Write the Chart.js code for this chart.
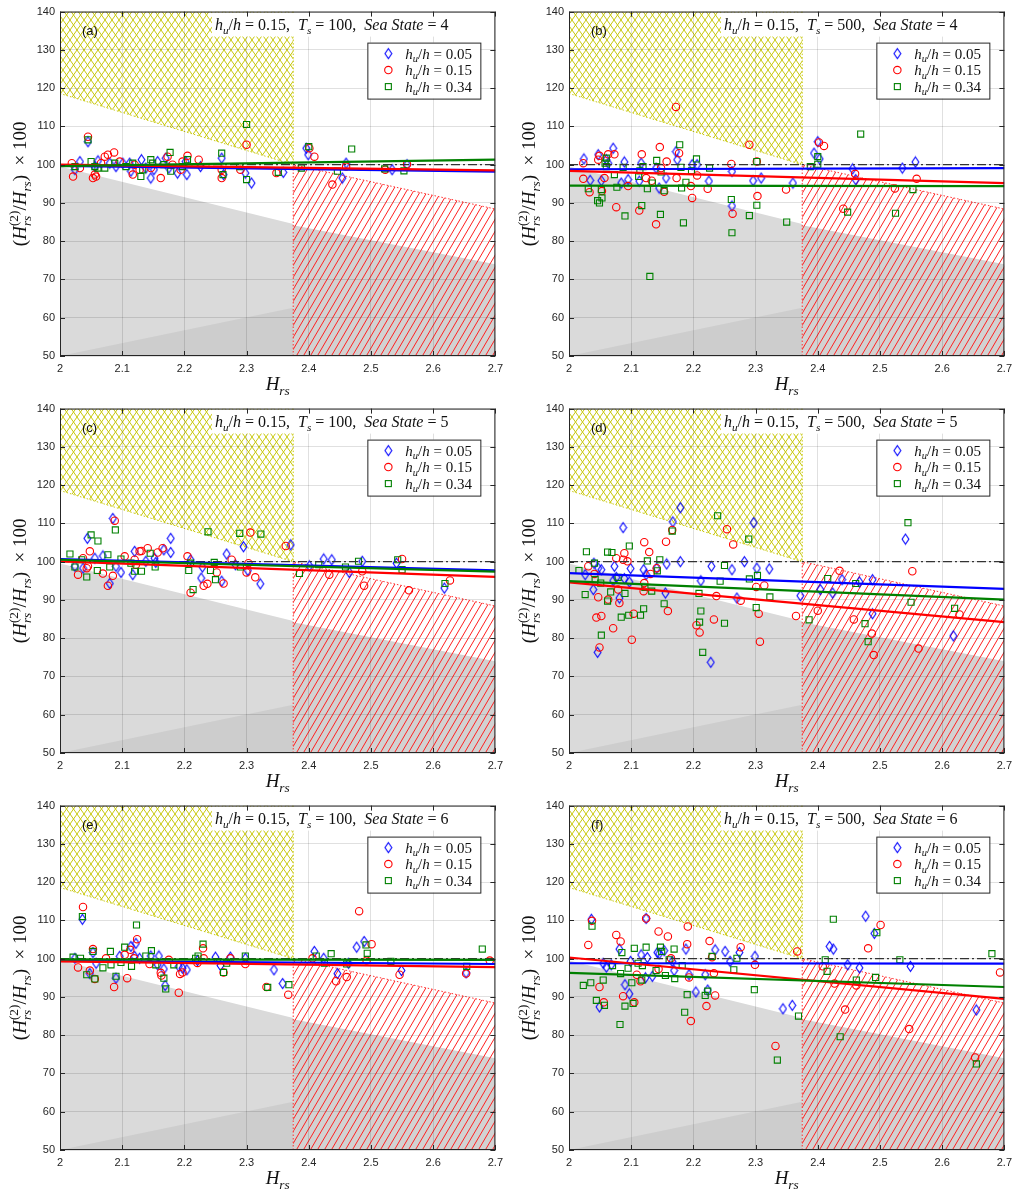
<!DOCTYPE html>
<html>
<head>
<meta charset="utf-8">
<script src="https://cdn.jsdelivr.net/npm/chart.js@4.4.1/dist/chart.umd.min.js"></script>
<style>
  html, body { margin: 0; padding: 0; background: #fff; }
  #wrap { position: relative; width: 1018px; height: 1195px; }
</style>
</head>
<body>
<div id="wrap"></div>
<script>
// axes
const xTicks = [2, 2.1, 2.2, 2.3, 2.4, 2.5, 2.6, 2.7];
const yTicks = [50, 60, 70, 80, 90, 100, 110, 120, 130, 140];

// panel info
const panelTags = ['(a)', '(b)', '(c)', '(d)', '(e)', '(f)'];
const tsValues = [100, 500, 100, 500, 100, 500];
const seaStates = [4, 4, 5, 5, 6, 6];
const huLabels = ['0.05', '0.15', '0.34'];
const huTitle = '0.15';

// shaded zones (H_rs, ratio) vertices
const yellowZone = [[2, 118.6], [2, 140], [2.375, 140], [2.375, 100]];
const grayZone = [[2, 99.5], [2.375, 84.5], [2.375, 50], [2, 50]];
const grayDark = [[2, 50], [2.375, 62.6], [2.375, 50]];
const redGray = [[2.375, 84.2], [2.7, 74], [2.7, 50], [2.375, 50]];
const redZone = [[2.375, 100], [2.7, 88.4], [2.7, 50], [2.375, 50]];

// reference line
const refX = [2, 2.7];
const refLine = [100, 100];

// fitted lines: [value at 2, value at 2.7] for hu/h = 0.05, 0.15, 0.34
const fitX = [2, 2.7];
const fitA = [[99.7, 98.2], [100.0, 98.5], [99.6, 101.3]];
const fitB = [[98.8, 99.1], [98.4, 95.2], [94.5, 94.4]];
const fitC = [[100.7, 97.7], [100.1, 96.0], [100.5, 97.4]];
const fitD = [[97.0, 92.9], [94.6, 84.2], [94.9, 90.1]];
const fitE = [[99.4, 98.6], [99.3, 97.8], [99.8, 99.7]];
const fitF = [[98.8, 98.7], [100.3, 89.5], [96.3, 92.6]];

// (a) Ts=100, sea state 4
const pA_05 = [[2.045,106.0],[2.024,98.7],[2.032,100.8],[2.061,101.0],[2.056,99.5],[2.080,100.4],[2.090,99.5],[2.101,100.4],[2.112,100.4],[2.131,101.3],[2.114,98.3],[2.138,99.1],[2.146,96.5],[2.151,98.7],[2.157,100.8],[2.170,101.7],[2.175,99.1],[2.189,97.8],[2.202,100.8],[2.204,97.4],[2.226,99.5],[2.260,101.7],[2.263,97.4],[2.298,97.8],[2.308,95.2],[2.359,98.0],[2.396,104.3],[2.399,102.6],[2.454,96.5],[2.460,100.4],[2.534,98.7],[2.558,100.0]];
const pA_15 = [[2.045,107.3],[2.019,100.4],[2.021,96.9],[2.032,99.1],[2.053,96.5],[2.056,97.4],[2.058,96.9],[2.066,100.4],[2.072,102.1],[2.077,102.6],[2.087,103.2],[2.096,100.8],[2.117,97.4],[2.120,100.0],[2.128,98.7],[2.146,99.1],[2.162,96.5],[2.173,102.1],[2.181,100.0],[2.194,98.7],[2.197,100.8],[2.205,102.3],[2.223,101.3],[2.260,96.5],[2.260,98.7],[2.290,98.7],[2.300,105.2],[2.348,97.8],[2.401,104.3],[2.409,102.1],[2.438,94.8],[2.460,99.5],[2.523,98.7],[2.558,100.1]];
const pA_34 = [[2.024,99.5],[2.045,106.5],[2.050,100.8],[2.056,99.5],[2.061,99.1],[2.072,99.1],[2.088,100.4],[2.106,99.5],[2.117,100.4],[2.130,96.9],[2.133,98.7],[2.146,101.3],[2.149,100.4],[2.167,100.0],[2.177,103.2],[2.178,98.3],[2.197,99.5],[2.205,101.3],[2.260,103.0],[2.262,97.4],[2.289,99.5],[2.300,110.5],[2.300,96.1],[2.351,98.0],[2.388,99.1],[2.400,104.7],[2.446,98.3],[2.469,104.1],[2.522,98.9],[2.553,98.4]];

// (b) Ts=500, sea state 4
const pB_05 = [[2.024,101.5],[2.034,95.9],[2.047,102.6],[2.052,95.8],[2.060,101.3],[2.063,100.4],[2.071,104.3],[2.084,95.2],[2.089,100.7],[2.095,96.1],[2.113,95.7],[2.116,100.4],[2.140,99.1],[2.145,93.9],[2.156,96.5],[2.172,103.4],[2.174,101.3],[2.198,100.0],[2.206,100.0],[2.225,95.7],[2.262,98.2],[2.262,89.2],[2.296,95.8],[2.309,96.5],[2.360,95.2],[2.394,103.0],[2.400,106.0],[2.403,101.5],[2.456,98.9],[2.461,96.1],[2.536,99.1],[2.557,100.7]];
const pB_15 = [[2.023,100.4],[2.023,96.3],[2.033,92.8],[2.047,101.3],[2.049,102.3],[2.053,93.1],[2.057,96.5],[2.063,102.7],[2.073,102.7],[2.076,88.9],[2.095,94.4],[2.113,88.0],[2.117,102.7],[2.124,96.5],[2.133,95.8],[2.140,84.4],[2.146,104.6],[2.148,99.1],[2.153,92.9],[2.157,100.8],[2.172,115.1],[2.173,96.5],[2.177,103.0],[2.196,94.4],[2.198,91.3],[2.206,97.2],[2.223,93.7],[2.261,100.2],[2.263,87.2],[2.290,105.2],[2.302,100.8],[2.303,91.8],[2.349,93.5],[2.402,105.8],[2.410,104.9],[2.441,88.5],[2.460,97.6],[2.524,93.8],[2.559,96.3]];
const pB_34 = [[2.031,93.7],[2.046,90.6],[2.049,90.0],[2.052,93.5],[2.053,91.3],[2.058,100.4],[2.060,99.5],[2.060,101.7],[2.073,97.4],[2.077,94.1],[2.087,99.3],[2.090,86.6],[2.112,96.9],[2.114,98.4],[2.117,89.3],[2.119,99.5],[2.126,93.7],[2.130,70.8],[2.134,95.2],[2.141,101.1],[2.147,87.0],[2.148,98.1],[2.153,93.2],[2.178,105.2],[2.180,99.3],[2.181,93.9],[2.184,84.8],[2.188,95.4],[2.197,98.4],[2.205,101.5],[2.226,99.1],[2.261,90.9],[2.262,82.2],[2.290,86.7],[2.302,100.8],[2.302,89.4],[2.350,85.0],[2.388,99.5],[2.400,102.1],[2.400,100.1],[2.448,87.6],[2.469,108.0],[2.525,87.3],[2.553,93.5]];

// (c) Ts=100, sea state 5
const pC_05 = [[2.024,98.8],[2.037,98.3],[2.044,106.1],[2.056,100.9],[2.069,101.5],[2.080,94.3],[2.085,111.3],[2.090,98.8],[2.098,97.2],[2.117,96.6],[2.120,102.7],[2.138,100.1],[2.152,100.9],[2.154,99.8],[2.167,103.1],[2.178,106.1],[2.178,102.4],[2.210,100.5],[2.227,95.7],[2.229,98.6],[2.260,94.9],[2.268,102.0],[2.282,99.2],[2.295,103.9],[2.302,97.7],[2.322,94.2],[2.371,104.4],[2.401,98.9],[2.424,100.7],[2.437,100.5],[2.465,97.2],[2.486,100.1],[2.541,99.6],[2.618,93.1]];
const pC_15 = [[2.029,96.6],[2.037,100.9],[2.043,98.3],[2.045,98.8],[2.048,102.7],[2.069,96.9],[2.077,93.7],[2.085,96.3],[2.088,110.7],[2.104,101.4],[2.120,100.5],[2.122,99.2],[2.128,102.7],[2.131,102.8],[2.141,103.5],[2.157,102.4],[2.165,103.5],[2.205,101.4],[2.210,91.9],[2.231,93.7],[2.237,94.2],[2.252,97.2],[2.263,94.3],[2.276,100.5],[2.300,97.2],[2.303,99.6],[2.306,107.6],[2.314,95.9],[2.363,104.1],[2.433,96.6],[2.486,97.5],[2.489,93.7],[2.550,100.7],[2.561,92.5],[2.627,95.1]];
const pC_34 = [[2.016,102.0],[2.024,98.6],[2.035,100.5],[2.043,96.0],[2.050,107.0],[2.060,97.7],[2.061,105.4],[2.077,101.8],[2.080,98.6],[2.089,108.3],[2.098,100.7],[2.114,99.6],[2.120,97.5],[2.131,97.5],[2.145,102.2],[2.153,98.6],[2.207,97.7],[2.210,99.6],[2.214,92.7],[2.238,107.8],[2.242,97.7],[2.248,99.8],[2.250,95.3],[2.289,107.4],[2.290,98.6],[2.323,107.2],[2.385,96.9],[2.416,99.2],[2.459,98.6],[2.480,100.1],[2.543,100.5],[2.550,97.9],[2.619,94.3]];

// (d) Ts=500, sea state 5
const pD_05 = [[2.026,96.6],[2.039,92.7],[2.040,99.6],[2.046,76.3],[2.047,98.3],[2.052,97.9],[2.071,95.0],[2.073,98.8],[2.076,95.9],[2.081,90.5],[2.087,108.9],[2.089,95.6],[2.097,94.7],[2.099,98.2],[2.120,97.9],[2.124,96.6],[2.141,98.3],[2.155,91.8],[2.157,99.4],[2.167,110.4],[2.179,114.1],[2.179,100.0],[2.212,95.0],[2.228,73.7],[2.229,98.8],[2.262,97.9],[2.270,90.5],[2.282,100.0],[2.297,110.2],[2.302,98.3],[2.322,98.1],[2.372,91.1],[2.404,92.7],[2.424,91.8],[2.439,95.3],[2.467,94.7],[2.488,95.3],[2.488,86.4],[2.541,105.9],[2.618,80.6]];
const pD_15 = [[2.031,98.8],[2.041,96.8],[2.044,85.4],[2.047,90.7],[2.049,77.6],[2.052,85.8],[2.063,90.1],[2.071,82.6],[2.076,100.9],[2.079,92.7],[2.081,89.2],[2.087,100.5],[2.089,102.2],[2.094,100.1],[2.101,79.6],[2.104,86.4],[2.120,92.3],[2.121,105.1],[2.121,94.4],[2.129,102.5],[2.131,96.8],[2.141,98.3],[2.156,105.2],[2.159,87.1],[2.166,108.3],[2.205,83.4],[2.210,81.5],[2.233,84.9],[2.237,91.0],[2.254,108.5],[2.264,104.5],[2.276,89.8],[2.301,93.4],[2.305,86.4],[2.307,79.1],[2.314,93.8],[2.365,85.8],[2.400,87.2],[2.435,97.6],[2.458,84.9],[2.487,81.2],[2.490,75.6],[2.552,97.5],[2.562,77.3],[2.628,86.2]];
const pD_34 = [[2.016,97.7],[2.026,91.4],[2.028,102.6],[2.041,99.6],[2.042,95.3],[2.051,94.4],[2.052,80.8],[2.062,102.5],[2.062,89.7],[2.067,92.1],[2.069,102.4],[2.079,95.9],[2.084,85.5],[2.090,91.7],[2.096,86.0],[2.097,104.1],[2.115,86.0],[2.120,87.7],[2.122,93.3],[2.126,100.2],[2.133,92.3],[2.142,97.6],[2.146,100.5],[2.153,89.0],[2.166,108.0],[2.209,91.7],[2.210,84.2],[2.212,87.1],[2.215,76.3],[2.239,112.0],[2.243,94.9],[2.250,99.0],[2.250,83.9],[2.289,105.9],[2.290,95.5],[2.301,88.0],[2.303,96.4],[2.323,90.8],[2.386,84.8],[2.416,95.6],[2.461,94.3],[2.476,83.8],[2.481,79.1],[2.545,110.2],[2.550,89.4],[2.620,87.8]];

// (e) Ts=100, sea state 6
const pE_05 = [[2.024,100.1],[2.036,110.3],[2.048,96.1],[2.053,101.6],[2.058,98.8],[2.090,94.9],[2.096,100.6],[2.114,103.2],[2.120,100.6],[2.122,104.0],[2.128,100.1],[2.146,100.7],[2.157,98.4],[2.159,100.7],[2.167,97.3],[2.169,93.0],[2.191,98.0],[2.197,97.5],[2.204,97.1],[2.221,99.5],[2.250,100.4],[2.258,98.2],[2.274,100.4],[2.298,100.1],[2.344,97.1],[2.358,93.5],[2.409,101.9],[2.424,100.1],[2.446,96.1],[2.464,98.8],[2.477,103.0],[2.489,104.5],[2.549,96.9],[2.653,96.3]];
const pE_15 = [[2.029,97.7],[2.037,113.5],[2.048,96.9],[2.053,102.5],[2.056,94.7],[2.074,100.1],[2.087,92.6],[2.104,101.0],[2.108,94.9],[2.113,102.3],[2.119,100.1],[2.124,105.1],[2.144,98.6],[2.162,96.3],[2.163,95.6],[2.175,99.7],[2.191,91.1],[2.193,96.0],[2.197,96.4],[2.221,98.9],[2.230,102.7],[2.231,100.1],[2.263,96.4],[2.274,100.1],[2.298,98.6],[2.332,92.6],[2.367,90.6],[2.406,100.1],[2.444,94.1],[2.461,95.2],[2.481,112.4],[2.493,99.5],[2.501,103.8],[2.546,95.8],[2.653,96.1],[2.691,99.5]];
const pE_34 = [[2.021,100.4],[2.033,100.1],[2.036,111.0],[2.043,95.8],[2.053,101.9],[2.056,94.7],[2.069,97.6],[2.081,101.9],[2.082,98.4],[2.090,95.4],[2.098,99.0],[2.104,103.0],[2.115,98.0],[2.123,108.8],[2.138,100.7],[2.147,102.1],[2.154,98.4],[2.167,94.9],[2.170,92.1],[2.183,98.4],[2.218,100.1],[2.222,100.7],[2.230,103.8],[2.263,96.4],[2.268,98.8],[2.298,100.7],[2.334,92.5],[2.368,93.2],[2.412,100.7],[2.425,98.8],[2.436,101.3],[2.461,98.6],[2.492,103.6],[2.494,101.4],[2.532,99.3],[2.654,98.0],[2.679,102.5]];

// (f) Ts=500, sea state 6
const pF_05 = [[2.036,110.3],[2.049,87.4],[2.055,98.8],[2.060,97.8],[2.068,98.4],[2.081,102.5],[2.090,93.2],[2.097,90.8],[2.099,99.3],[2.116,101.0],[2.123,95.0],[2.124,110.5],[2.126,100.3],[2.134,95.4],[2.142,101.6],[2.145,101.3],[2.153,102.1],[2.166,99.3],[2.169,96.9],[2.188,102.5],[2.193,95.8],[2.204,91.3],[2.219,95.8],[2.223,91.8],[2.235,102.3],[2.251,101.9],[2.259,99.3],[2.274,101.6],[2.299,100.6],[2.344,86.9],[2.359,87.8],[2.419,103.2],[2.425,102.5],[2.448,98.4],[2.467,97.6],[2.477,111.1],[2.491,106.6],[2.549,98.0],[2.655,86.6]];
const pF_15 = [[2.031,103.6],[2.037,109.9],[2.049,92.6],[2.056,88.6],[2.076,106.2],[2.083,104.5],[2.087,90.2],[2.105,88.6],[2.109,95.8],[2.115,94.1],[2.124,110.5],[2.144,107.1],[2.144,97.3],[2.159,105.8],[2.164,100.1],[2.190,103.8],[2.191,108.4],[2.193,95.1],[2.196,83.7],[2.221,87.6],[2.226,104.6],[2.230,100.4],[2.233,96.2],[2.235,90.4],[2.276,103.0],[2.299,98.4],[2.332,77.2],[2.367,101.9],[2.408,98.0],[2.427,93.5],[2.444,86.7],[2.462,93.0],[2.481,102.7],[2.501,108.8],[2.547,81.6],[2.653,74.2],[2.693,96.4]];
const pF_34 = [[2.023,93.0],[2.035,93.7],[2.037,108.5],[2.044,89.1],[2.055,94.4],[2.057,87.8],[2.070,98.2],[2.082,82.8],[2.083,96.1],[2.085,101.6],[2.090,87.6],[2.095,97.5],[2.101,93.7],[2.103,88.3],[2.105,102.7],[2.111,98.8],[2.117,94.4],[2.118,98.2],[2.124,103.0],[2.140,96.9],[2.147,103.0],[2.149,101.9],[2.155,95.6],[2.161,99.7],[2.169,102.5],[2.170,94.8],[2.182,98.2],[2.186,86.0],[2.190,90.6],[2.219,90.4],[2.223,91.5],[2.230,100.6],[2.265,97.1],[2.270,100.1],[2.298,91.9],[2.335,73.5],[2.369,85.0],[2.412,99.7],[2.415,96.7],[2.425,110.3],[2.436,79.6],[2.462,94.4],[2.493,95.1],[2.495,106.8],[2.532,99.7],[2.655,72.5],[2.680,101.3]];

const panelPoints = [[pA_05, pA_15, pA_34], [pB_05, pB_15, pB_34], [pC_05, pC_15, pC_34],
                     [pD_05, pD_15, pD_34], [pE_05, pE_15, pE_34], [pF_05, pF_15, pF_34]];
const panelFits = [fitA, fitB, fitC, fitD, fitE, fitF];

const seriesColors = ['#0000ff', '#ff0000', '#008000'];
const MATH = '"Liberation Serif", "DejaVu Serif", serif';
const SANS = '"Liberation Sans", Arial, sans-serif';

// narrow diamond marker like matlab's 'd'
function diamondMarker(color) {
  const c = document.createElement('canvas');
  c.width = 9; c.height = 13;
  const g = c.getContext('2d');
  g.strokeStyle = color; g.lineWidth = 1.1;
  g.beginPath();
  g.moveTo(4.5, 1.5); g.lineTo(7.9, 6.5); g.lineTo(4.5, 11.5); g.lineTo(1.1, 6.5);
  g.closePath(); g.stroke();
  return c;
}
const diamondImg = diamondMarker(seriesColors[0]);
const markerStyles = [diamondImg, 'circle', 'rect'];
const markerRadius = [4, 3.7, 4.3];

function makePattern(ctx, w, h, color, lw, segs) {
  const c = document.createElement('canvas');
  c.width = w; c.height = h;
  const g = c.getContext('2d');
  g.strokeStyle = color; g.lineWidth = lw;
  g.beginPath();
  segs.forEach(s => { g.moveTo(s[0], s[1]); g.lineTo(s[2], s[3]); });
  g.stroke();
  return ctx.createPattern(c, 'repeat');
}

function polyPath(ctx, xs, ys, pts) {
  ctx.beginPath();
  pts.forEach(([u, v], i) => {
    const px = xs.getPixelForValue(u), py = ys.getPixelForValue(v);
    if (i === 0) ctx.moveTo(px, py); else ctx.lineTo(px, py);
  });
  ctx.closePath();
}

// rich text: parts {t, i: italic, d: 'sub'|'sup', k: keep x (stacked)}
function rich(ctx, parts, size, x0, y0, draw) {
  let x = x0, held = 0;
  for (const p of parts) {
    const s = p.d ? size * 0.7 : size;
    ctx.font = (p.i ? 'italic ' : '') + s.toFixed(1) + 'px ' + MATH;
    const w = ctx.measureText(p.t).width;
    const dy = p.d === 'sub' ? size * 0.24 : (p.d === 'sup' ? -size * 0.42 : 0);
    if (draw) ctx.fillText(p.t, x, y0 + dy);
    if (p.k) { held = Math.max(held, w); continue; }
    x += Math.max(w, held);
    held = 0;
  }
  return x - x0;
}

const zonesPlugin = {
  id: 'zones',
  beforeDraw(chart) {
    const { ctx, chartArea: a, scales: { x, y } } = chart;
    if (!chart.$pats) {
      chart.$pats = {
        yellow: makePattern(ctx, 7, 10, 'rgb(200,200,15)', 1,
          [[0, 0, 7, 10], [-7, 0, 0, 10], [7, 0, 14, 10], [7, 0, 0, 10], [0, 0, -7, 10], [14, 0, 7, 10]]),
        red: makePattern(ctx, 7, 12, '#ff2020', 1,
          [[0, 12, 7, 0], [-7, 12, 0, 0], [7, 12, 14, 0]])
      };
    }
    ctx.save();
    ctx.beginPath();
    ctx.rect(a.left, a.top, a.width, a.height);
    ctx.clip();
    polyPath(ctx, x, y, grayZone); ctx.fillStyle = '#dadada'; ctx.fill();
    polyPath(ctx, x, y, grayDark); ctx.fillStyle = '#cdcdcd'; ctx.fill();
    polyPath(ctx, x, y, redGray); ctx.fillStyle = '#d2d2d2'; ctx.fill();
    polyPath(ctx, x, y, redZone); ctx.fillStyle = chart.$pats.red; ctx.fill();
    polyPath(ctx, x, y, yellowZone); ctx.fillStyle = chart.$pats.yellow; ctx.fill();
    // dotted outlines
    ctx.setLineDash([1.5, 2]);
    ctx.lineWidth = 1;
    ctx.strokeStyle = '#ff3030';
    ctx.beginPath();
    ctx.moveTo(x.getPixelForValue(redZone[3][0]), y.getPixelForValue(redZone[3][1]));
    ctx.lineTo(x.getPixelForValue(redZone[0][0]), y.getPixelForValue(redZone[0][1]));
    ctx.lineTo(x.getPixelForValue(redZone[1][0]), y.getPixelForValue(redZone[1][1]));
    ctx.stroke();
    ctx.strokeStyle = 'rgb(200,200,15)';
    ctx.beginPath();
    ctx.moveTo(x.getPixelForValue(yellowZone[2][0]), y.getPixelForValue(yellowZone[2][1]));
    ctx.lineTo(x.getPixelForValue(yellowZone[3][0]), y.getPixelForValue(yellowZone[3][1]));
    ctx.lineTo(x.getPixelForValue(yellowZone[0][0]), y.getPixelForValue(yellowZone[0][1]));
    ctx.stroke();
    ctx.restore();
  }
};

const framePlugin = {
  id: 'frame',
  afterDraw(chart, args, opts) {
    const { ctx, chartArea: a, scales: { x, y } } = chart;
    ctx.save();
    ctx.fillStyle = '#111';
    ctx.textBaseline = 'alphabetic';
    ctx.textAlign = 'left';

    // annotation with white background
    const ann = [{ t: 'h', i: 1 }, { t: 'u', i: 1, d: 'sub' }, { t: '/' }, { t: 'h', i: 1 },
      { t: ' = ' + huTitle + ',  ' }, { t: 'T', i: 1 }, { t: 's', i: 1, d: 'sub' },
      { t: ' = ' + opts.ts + ',  ' }, { t: 'Sea State', i: 1 }, { t: ' = ' + opts.sea }];
    const aw = rich(ctx, ann, 16, 0, 0, false);
    const ax = a.left + 155;
    ctx.fillStyle = '#fff';
    ctx.fillRect(ax - 3, a.top + 1, aw + 8, 24);
    ctx.fillStyle = '#111';
    rich(ctx, ann, 16, ax, a.top + 18.5, true);

    // box and inward ticks
    ctx.strokeStyle = '#262626';
    ctx.lineWidth = 1;
    ctx.strokeRect(a.left + 0.5, a.top + 0.5, a.width - 1, a.height - 1);
    ctx.beginPath();
    xTicks.forEach(v => {
      const px = Math.round(x.getPixelForValue(v)) + 0.5;
      ctx.moveTo(px, a.bottom); ctx.lineTo(px, a.bottom - 5);
      ctx.moveTo(px, a.top); ctx.lineTo(px, a.top + 5);
    });
    yTicks.forEach(v => {
      const py = Math.round(y.getPixelForValue(v)) + 0.5;
      ctx.moveTo(a.left, py); ctx.lineTo(a.left + 5, py);
      ctx.moveTo(a.right, py); ctx.lineTo(a.right - 5, py);
    });
    ctx.stroke();

    // panel tag
    ctx.fillStyle = '#111';
    ctx.font = '13px ' + SANS;
    ctx.fillText(opts.tag, a.left + 22, a.top + 23);

    // legend box
    const lx = a.right - 128, ly = a.top + 31;
    ctx.fillStyle = '#fff';
    ctx.fillRect(lx, ly, 113, 56);
    ctx.strokeStyle = '#262626';
    ctx.lineWidth = 1;
    ctx.strokeRect(lx + 0.5, ly + 0.5, 113, 56);
    huLabels.forEach((lab, k) => {
      const my = ly + 11 + k * 16.5, mx = lx + 21;
      ctx.strokeStyle = seriesColors[k];
      ctx.lineWidth = 1.1;
      if (k === 0) ctx.drawImage(diamondImg, mx - 4.5, my - 6.5);
      else if (k === 1) { ctx.beginPath(); ctx.arc(mx, my, 3.7, 0, Math.PI * 2); ctx.stroke(); }
      else ctx.strokeRect(mx - 3, my - 3, 6, 6);
      ctx.fillStyle = '#111';
      rich(ctx, [{ t: 'h', i: 1 }, { t: 'u', i: 1, d: 'sub' }, { t: '/' }, { t: 'h', i: 1 }, { t: ' = ' + lab }],
        15, lx + 38, my + 5, true);
    });

    // axis titles
    const xt = [{ t: 'H', i: 1 }, { t: 'rs', i: 1, d: 'sub' }];
    const xw = rich(ctx, xt, 19, 0, 0, false);
    rich(ctx, xt, 19, (a.left + a.right) / 2 - xw / 2, a.bottom + 34, true);

    const yt = [{ t: '(' }, { t: 'H', i: 1 }, { t: '(2)', d: 'sup', k: 1 }, { t: 'rs', i: 1, d: 'sub' },
      { t: '/' }, { t: 'H', i: 1 }, { t: 'rs', i: 1, d: 'sub' }, { t: ')  \u00d7 100' }];
    const yw = rich(ctx, yt, 19, 0, 0, false);
    ctx.translate(a.left - 34, (a.top + a.bottom) / 2);
    ctx.rotate(-Math.PI / 2);
    rich(ctx, yt, 19, -yw / 2, 0, true);
    ctx.restore();
  }
};

const wrap = document.getElementById('wrap');

panelPoints.forEach((pts, i) => {
  const col = i % 2, row = Math.floor(i / 2);
  const H = row === 2 ? 401 : 397;
  const cv = document.createElement('canvas');
  cv.width = 509; cv.height = H;
  cv.style.cssText = 'position:absolute;left:' + (col * 509) + 'px;top:' + (row * 397) + 'px;width:509px;height:' + H + 'px';
  wrap.appendChild(cv);

  const fits = panelFits[i];
  const fitSets = [2, 1, 0].map(k => ({
    label: 'fit ' + huLabels[k],
    data: fitX.map((v, j) => ({ x: v, y: fits[k][j] })),
    showLine: true, borderColor: seriesColors[k], borderWidth: 2.2,
    pointRadius: 0, fill: false
  }));
  const refSet = {
    label: 'ref',
    data: refX.map((v, j) => ({ x: v, y: refLine[j] })),
    showLine: true, borderColor: '#333', borderWidth: 1.2, borderDash: [9, 3, 2, 3],
    pointRadius: 0, fill: false
  };
  const ptSets = [2, 1, 0].map(k => ({
    label: 'hu/h = ' + huLabels[k],
    data: pts[k].map(([u, v]) => ({ x: u, y: v })),
    showLine: false,
    pointStyle: markerStyles[k],
    pointRadius: markerRadius[k],
    borderColor: seriesColors[k],
    backgroundColor: 'rgba(0,0,0,0)',
    pointBorderWidth: 1.1
  }));

  new Chart(cv, {
    type: 'scatter',
    data: { datasets: [...fitSets, refSet, ...ptSets] },
    options: {
      responsive: false,
      animation: false,
      events: [],
      layout: { padding: { top: 9, right: 10, left: 0, bottom: 0 } },
      plugins: {
        legend: { display: false },
        tooltip: { enabled: false },
        frame: { tag: panelTags[i], ts: tsValues[i], sea: seaStates[i] }
      },
      scales: {
        x: {
          type: 'linear', min: 2, max: 2.7,
          afterBuildTicks: s => { s.ticks = xTicks.map(v => ({ value: v })); },
          afterFit: s => { s.height = H - 9 - 347; },
          grid: { color: 'rgba(0,0,0,0.12)', drawTicks: false },
          border: { display: false },
          ticks: {
            padding: 6, color: '#262626', autoSkip: false, maxRotation: 0,
            font: { family: SANS, size: 11 },
            callback: v => String(+v.toFixed(1))
          }
        },
        y: {
          type: 'linear', min: 50, max: 140,
          afterBuildTicks: s => { s.ticks = yTicks.map(v => ({ value: v })); },
          afterFit: s => { s.width = 60; },
          grid: { color: 'rgba(0,0,0,0.12)', drawTicks: false },
          border: { display: false },
          ticks: {
            padding: 5, color: '#262626', autoSkip: false,
            font: { family: SANS, size: 11 },
            callback: v => String(v)
          }
        }
      }
    },
    plugins: [zonesPlugin, framePlugin]
  });
});
</script>
</body>
</html>
